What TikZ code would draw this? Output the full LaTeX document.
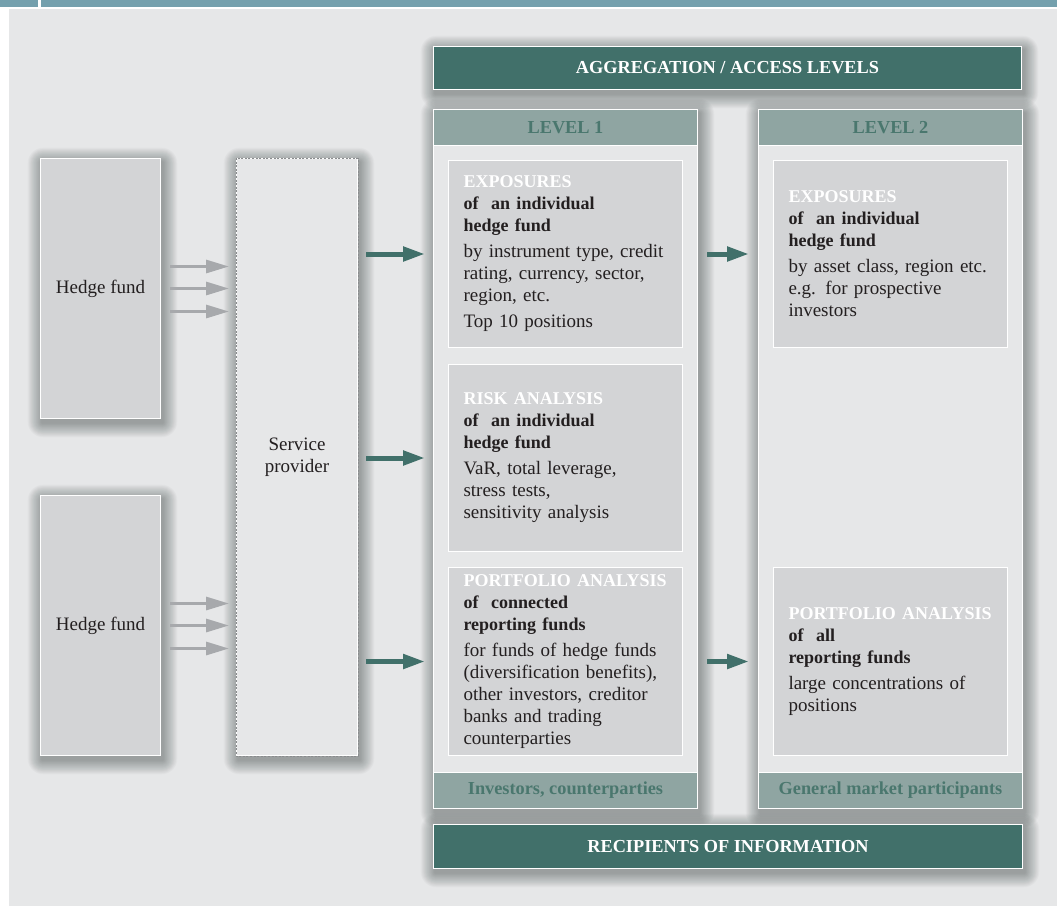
\documentclass[tikz,border=0pt]{standalone}
\usepackage{fontspec}
\setmainfont{Liberation Serif}
\usetikzlibrary{arrows.meta}
\definecolor{bgc}{HTML}{E6E7E8}
\definecolor{topbar}{HTML}{74A0AD}
\definecolor{dteal}{HTML}{41706A}
\definecolor{hdrc}{HTML}{8FA5A2}
\definecolor{hdrtext}{HTML}{4A776E}
\definecolor{innerc}{HTML}{D3D4D6}
\definecolor{ink}{HTML}{231F20}
\definecolor{garrow}{HTML}{A7A9AC}
\definecolor{dashc}{HTML}{8A8C8E}
\definecolor{shadc}{HTML}{2A3836}
\pgfdeclarelayer{back}
\pgfdeclarelayer{shadow}
\pgfsetlayers{back,shadow,main}
\newcommand{\softshadow}[1]{%
  \begin{pgfonlayer}{shadow}
  \foreach \k in {1,...,22}{
    \fill[shadc, opacity=0.018, rounded corners=\k*0.7pt]
      ([shift={(2pt-\k*0.65pt,\k*0.65pt-4pt)}]#1.north west) rectangle
      ([shift={(2pt+\k*0.65pt,-\k*0.65pt-4pt)}]#1.south east);
  }
  \end{pgfonlayer}}
\newcommand{\hd}[1]{{\fontsize{18}{22}\selectfont\bfseries #1}}
\newcommand{\wh}[1]{\mbox{\fontsize{18}{22}\selectfont\bfseries\color{white}#1}}
\begin{document}
\begin{tikzpicture}[x=1pt,y=-1pt,
  font=\fontsize{19}{22}\selectfont,
  box/.style={draw=white, line width=1pt, rectangle, inner sep=0pt, anchor=north west},
  ibox/.style={box, fill=innerc, minimum width=234pt, minimum height=187pt, text width=204pt, inner xsep=15pt, align=left, text=ink},
  bar/.style={box, fill=dteal, text=white, font=\fontsize{18.3}{22}\selectfont\bfseries},
  hdr/.style={box, fill=hdrc, minimum width=264pt, minimum height=36pt, text=hdrtext, font=\fontsize{18.3}{22}\selectfont\bfseries},
  col/.style={box, fill=bgc, minimum width=264pt, minimum height=699pt},
  hf/.style={box, fill=innerc, minimum width=120pt, minimum height=260pt, text=ink},
  garr/.style={draw=garrow, line width=3pt, -{Triangle[length=23pt,width=13pt]}, shorten <=9pt, shorten >=7pt},
  tarr/.style={draw=dteal, line width=5pt, -{Triangle[length=22pt,width=14pt]}}
]
\useasboundingbox (0,0) rectangle (1057,906);
\begin{pgfonlayer}{back}
\fill[white] (0,0) rectangle (1057,906);
\fill[topbar] (0,0) rectangle (1057,7);
\fill[white] (38,0) rectangle (41,7);
\fill[bgc] (9,9) rectangle (1057,906);
\end{pgfonlayer}

% bars
\node[bar, minimum width=588pt, minimum height=43pt] (agg) at (433,46) {AGGREGATION / ACCESS LEVELS};
\node[bar, minimum width=589pt, minimum height=44pt] (rec) at (433,824) {RECIPIENTS OF INFORMATION};
\softshadow{agg}
\softshadow{rec}

% columns
\node[col] (c1) at (433,109) {};
\node[col] (c2) at (758,109) {};
\softshadow{c1}
\softshadow{c2}
\node[hdr] (h1) at (433,109) {LEVEL 1};
\node[hdr] (h2) at (758,109) {LEVEL 2};
\node[hdr] (f1) at (433,772) {Investors, counterparties};
\node[hdr] (f2) at (758,772) {General market participants};

% inner boxes level 1
\node[ibox] (e1) at (448,160) {\wh{EXPOSURES}\\
\hd{of\ \ an individual}\\
\hd{hedge fund}\\[4pt]
by instrument type, credit\\
rating, currency, sector,\\
region, etc.\\[4pt]
Top 10 positions};
\node[ibox] (r1) at (448,364) {\wh{RISK ANALYSIS}\\
\hd{of\ \ an individual}\\
\hd{hedge fund}\\[4pt]
VaR, total leverage,\\
stress tests,\\
sensitivity analysis};
\node[ibox, minimum height=188pt] (p1) at (448,567) {\wh{PORTFOLIO ANALYSIS}\\
\hd{of\ \ connected}\\
\hd{reporting funds}\\[4pt]
for funds of hedge funds\\
(diversification benefits),\\
other investors, creditor\\
banks and trading\\
counterparties};

% inner boxes level 2
\node[ibox] (e2) at (773,160) {\wh{EXPOSURES}\\
\hd{of\ \ an individual}\\
\hd{hedge fund}\\[4pt]
by asset class, region etc.\\
e.g. for prospective\\
investors};
\node[ibox, minimum height=188pt] (p2) at (773,567) {\wh{PORTFOLIO ANALYSIS}\\
\hd{of\ \ all}\\
\hd{reporting funds}\\[4pt]
large concentrations of\\
positions};

% hedge funds and service provider
\node[hf] (hf1) at (40,158) {Hedge fund};
\node[hf] (hf2) at (40,495) {Hedge fund};
\softshadow{hf1}
\softshadow{hf2}
\node[box, fill=bgc, minimum width=121pt, minimum height=597pt, align=center, text=ink] (sp) at (236,158) {Service\\provider};
\softshadow{sp}
\draw[dashc, line width=0.9pt, dash pattern=on 2pt off 1.6pt] (sp.north west) rectangle (sp.south east);

% gray arrows
\foreach \n/\dy in {a/22pt,b/0pt,c/-23pt}{
  \path ([yshift=\dy]hf1.east) coordinate (g1\n);
  \draw[garr] (g1\n) -- (g1\n -| sp.west);
}
\foreach \n/\dy in {a/22pt,b/0pt,c/-23pt}{
  \path ([yshift=\dy]hf2.east) coordinate (g2\n);
  \draw[garr] (g2\n) -- (g2\n -| sp.west);
}

% teal arrows
\draw[tarr, shorten <=8pt, shorten >=8pt] (sp.east |- e1) -- (c1.west |- e1);
\draw[tarr, shorten <=8pt, shorten >=8pt] (sp.east |- r1) -- (c1.west |- r1);
\draw[tarr, shorten <=8pt, shorten >=8pt] (sp.east |- p1) -- (c1.west |- p1);
\draw[tarr, shorten <=9pt, shorten >=9pt] (c1.east |- e1) -- (c2.west |- e1);
\draw[tarr, shorten <=9pt, shorten >=9pt] (c1.east |- p1) -- (c2.west |- p1);
\end{tikzpicture}
\end{document}
